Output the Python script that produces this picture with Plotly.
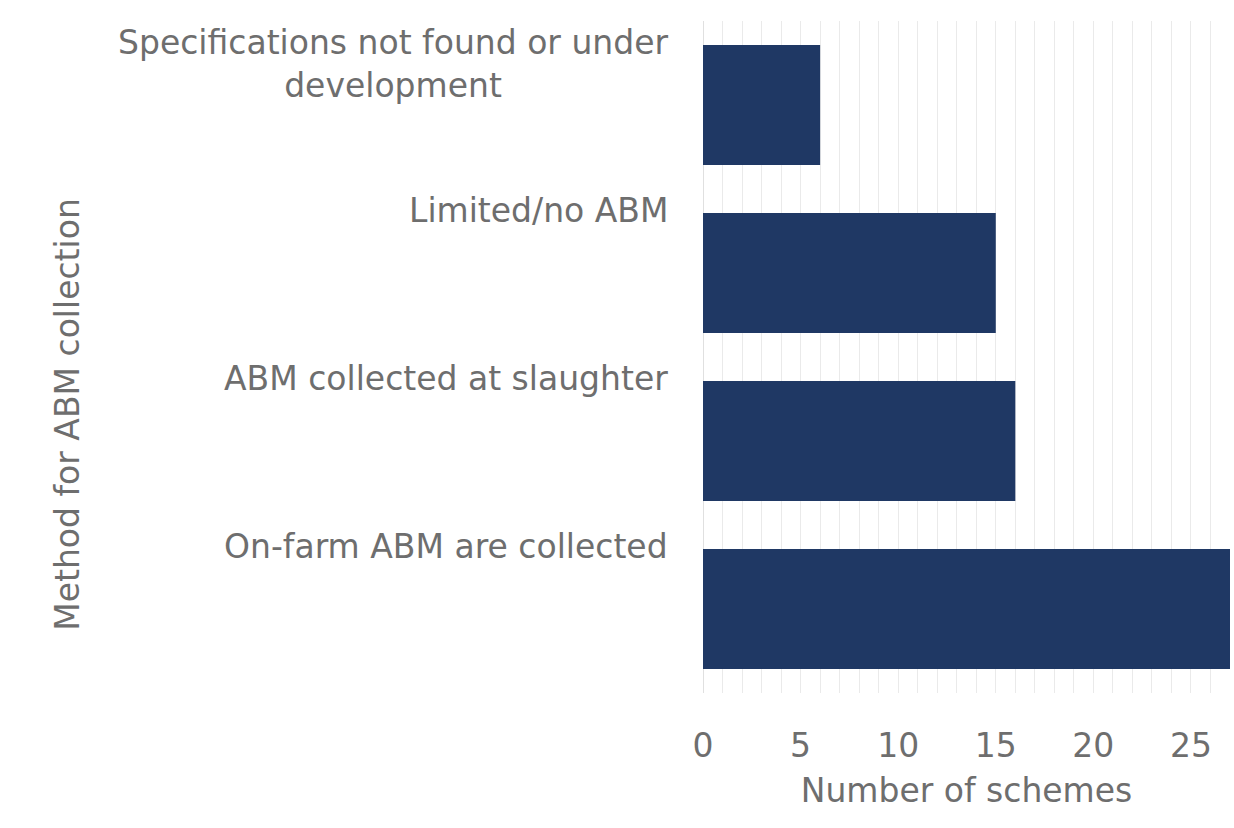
import plotly.graph_objects as go

categories = [
    "Specifications not found or under<br>development",
    "Limited/no ABM",
    "ABM collected at slaughter",
    "On-farm ABM are collected",
]
values = [6, 15, 16, 27]
x_ticks = [0, 5, 10, 15, 20, 25]

FONT = "DejaVu Sans"
GREY = "#6e6e6e"
NAVY = "#1f3864"
SIZE = 33

fig = go.Figure(
    go.Bar(
        y=categories,
        x=values,
        orientation="h",
        marker=dict(color=NAVY, line=dict(width=0)),
        width=0.714,
    )
)

annotations = []
for c in categories:
    annotations.append(
        dict(
            x=0, y=c, xref="x", yref="y",
            text=c, showarrow=False,
            xanchor="right", yanchor="top",
            xshift=-33, yshift=84,
            align="center",
            font=dict(family=FONT, size=SIZE, color=GREY),
        )
    )
annotations.append(
    dict(
        x=0, y=0.414, xref="paper", yref="paper",
        text="Method for ABM collection", showarrow=False,
        textangle=-90, xanchor="center", yanchor="middle",
        xshift=-635,
        font=dict(family=FONT, size=SIZE, color=GREY),
    )
)

fig.update_layout(
    width=1234, height=828,
    margin=dict(l=703, r=4, t=21, b=135),
    paper_bgcolor="white", plot_bgcolor="white",
    showlegend=False,
    font=dict(family=FONT, size=SIZE, color=GREY),
    annotations=annotations,
    bargap=0.286,
)
fig.update_yaxes(
    categoryorder="array", categoryarray=categories[::-1],
    showticklabels=False, showgrid=False, zeroline=False, ticks="",
)
fig.update_xaxes(
    range=[0, 27], tickvals=x_ticks, ticks="",
    showgrid=True, gridcolor="#eaeaea", gridwidth=1,
    minor=dict(dtick=1, showgrid=True, gridcolor="#eaeaea", gridwidth=1),
    zeroline=True, zerolinecolor="#e0e0e0", zerolinewidth=1,
    ticklabelstandoff=30,
    tickfont=dict(family=FONT, size=SIZE, color=GREY),
    title=dict(text="Number of schemes", font=dict(family=FONT, size=SIZE, color=GREY), standoff=14),
)

fig.write_html("out.html")
